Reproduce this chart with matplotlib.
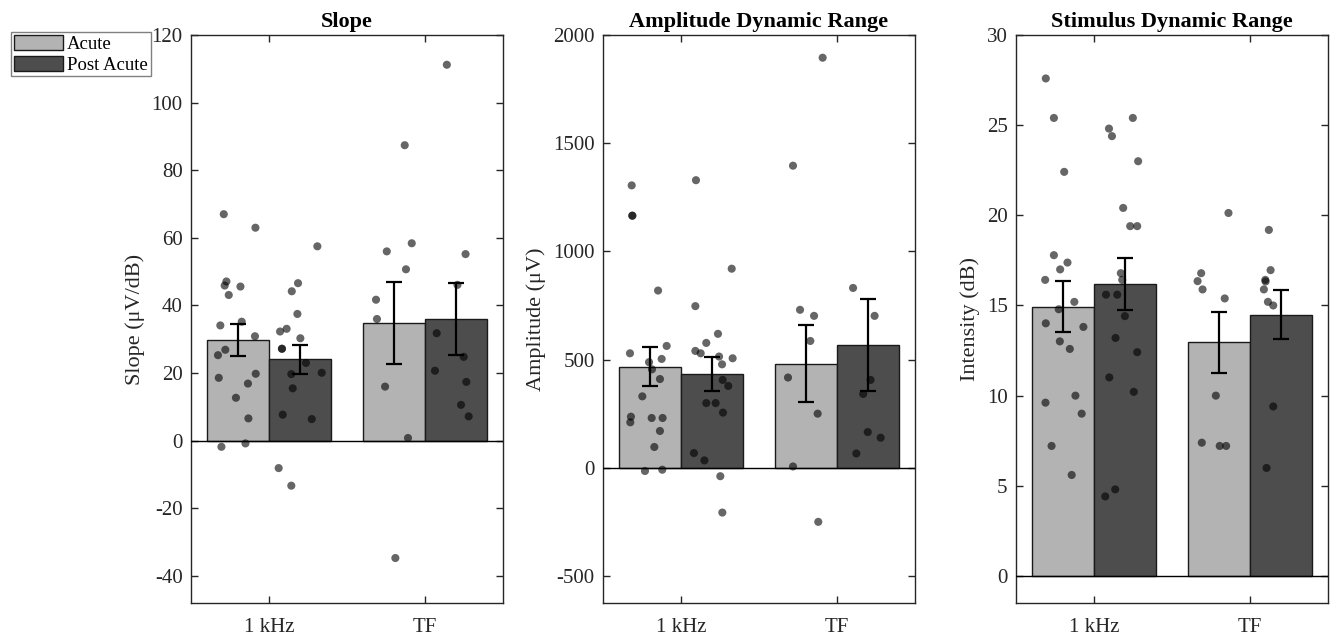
import matplotlib
matplotlib.use("Agg")
import matplotlib.pyplot as plt
from matplotlib.patches import Patch
import numpy as np

plt.rcParams['font.family'] = ['Liberation Serif', 'DejaVu Serif']
plt.rcParams['axes.unicode_minus'] = False

groups = ['1 kHz', 'TF']
conditions = ['Acute', 'Post Acute']
titles = ['Slope', 'Amplitude Dynamic Range', 'Stimulus Dynamic Range']
ylabels = ['Slope (μV/dB)', 'Amplitude (μV)', 'Intensity (dB)']
ylims = [(-48, 120), (-625, 2000), (-1.5, 30)]
yticks = [np.arange(-40, 121, 20), np.arange(-500, 2001, 500), np.arange(0, 31, 5)]

# bar means [group][condition]
slope_means = [[29.8, 24.1], [34.8, 36.0]]
slope_err = [[4.6, 4.3], [12.1, 10.6]]
amp_means = [[466, 433], [480, 568]]
amp_err = [[90, 80], [178, 212]]
stim_means = [[14.93, 16.19], [12.95, 14.49]]
stim_err = [[1.42, 1.46], [1.67, 1.37]]

# individual subject points: x (jittered position) and y values
slope_1k_acute_x = [0.71, 0.913, 0.727, 0.716, 0.817, 0.742, 0.825, 0.688, 0.91, 0.72, 0.673, 0.915, 0.678, 0.865, 0.788, 0.868, 0.695, 0.849]
slope_1k_acute_y = [67.0, 63.0, 47.1, 45.9, 45.6, 43.1, 35.2, 34.1, 30.9, 26.9, 25.3, 19.8, 18.6, 16.9, 12.7, 6.6, -1.8, -0.8]
slope_1k_post_x = [1.31, 1.186, 1.146, 1.182, 1.071, 1.113, 1.201, 1.083, 1.083, 1.237, 1.143, 1.338, 1.152, 1.088, 1.274, 1.062, 1.143]
slope_1k_post_y = [57.5, 46.6, 44.2, 37.5, 32.3, 33.1, 30.3, 27.2, 27.2, 23.0, 19.7, 20.1, 15.5, 7.7, 6.4, -8.1, -13.3]
slope_tf_acute_x = [1.686, 1.692, 1.744, 1.891, 1.81, 1.755, 1.878, 1.87, 1.915]
slope_tf_acute_y = [41.7, 36.0, 16.0, 0.8, -34.7, 56.0, 50.7, 87.4, 58.4]
slope_tf_post_x = [2.14, 2.26, 2.208, 2.075, 2.248, 2.064, 2.265, 2.231, 2.28]
slope_tf_post_y = [111.2, 55.2, 46.1, 31.8, 24.8, 20.7, 17.4, 10.6, 7.2]

amp_1k_acute_x = [0.684, 0.688, 0.688, 0.853, 0.673, 0.908, 0.795, 0.876, 0.814, 0.865, 0.752, 0.679, 0.675, 0.812, 0.882, 0.865, 0.829, 0.769, 0.88]
amp_1k_acute_y = [1305, 1165, 1165, 819, 529, 563, 488, 503, 455, 410, 330, 236, 210, 230, 230, 170, 96, -15, -9]
amp_1k_post_x = [1.096, 1.325, 1.092, 1.237, 1.162, 1.092, 1.126, 1.244, 1.331, 1.263, 1.267, 1.303, 1.162, 1.222, 1.269, 1.083, 1.15, 1.252, 1.265]
amp_1k_post_y = [1329, 920, 747, 619, 577, 540, 529, 514, 506, 478, 406, 378, 299, 299, 255, 68, 34, -39, -207]
amp_tf_acute_x = [1.718, 1.763, 1.853, 1.829, 1.686, 1.876, 1.718, 1.88]
amp_tf_acute_y = [1396, 730, 702, 586, 417, 250, 6, -250]
amp_tf_post_x = [1.908, 2.103, 2.241, 2.215, 2.168, 2.197, 2.28, 2.124]
amp_tf_post_y = [1895, 831, 702, 406, 341, 165, 139, 66]

stim_1k_acute_x = [0.691, 0.743, 0.809, 0.743, 0.83, 0.783, 0.687, 0.874, 0.774, 0.691, 0.932, 0.781, 0.845, 0.881, 0.689, 0.921, 0.728, 0.857]
stim_1k_acute_y = [27.59, 25.4, 22.41, 17.79, 17.38, 17.0, 16.42, 15.2, 14.79, 14.01, 13.81, 13.01, 12.59, 10.0, 9.61, 9.0, 7.21, 5.6]
stim_1k_post_x = [1.096, 1.115, 1.249, 1.283, 1.187, 1.232, 1.277, 1.172, 1.181, 1.077, 1.149, 1.198, 1.138, 1.277, 1.098, 1.255, 1.136, 1.072]
stim_1k_post_y = [24.81, 24.39, 25.4, 23.0, 20.41, 19.4, 19.4, 16.79, 16.42, 15.6, 15.6, 14.41, 13.2, 12.41, 11.01, 10.21, 4.8, 4.41]
stim_tf_acute_x = [1.862, 1.687, 1.664, 1.696, 1.838, 1.781, 1.691, 1.806, 1.847]
stim_tf_acute_y = [20.13, 16.79, 16.35, 15.89, 15.39, 10.0, 7.39, 7.21, 7.21]
stim_tf_post_x = [2.121, 2.132, 2.098, 2.1, 2.089, 2.115, 2.149, 2.149, 2.106]
stim_tf_post_y = [19.19, 16.96, 16.42, 16.33, 15.89, 15.2, 15.0, 9.4, 5.99]

panels = [
    (slope_means, slope_err,
     [(slope_1k_acute_x, slope_1k_acute_y), (slope_1k_post_x, slope_1k_post_y),
      (slope_tf_acute_x, slope_tf_acute_y), (slope_tf_post_x, slope_tf_post_y)]),
    (amp_means, amp_err,
     [(amp_1k_acute_x, amp_1k_acute_y), (amp_1k_post_x, amp_1k_post_y),
      (amp_tf_acute_x, amp_tf_acute_y), (amp_tf_post_x, amp_tf_post_y)]),
    (stim_means, stim_err,
     [(stim_1k_acute_x, stim_1k_acute_y), (stim_1k_post_x, stim_1k_post_y),
      (stim_tf_acute_x, stim_tf_acute_y), (stim_tf_post_x, stim_tf_post_y)]),
]

bar_colors = ['#b3b3b3', '#4d4d4d']
axis_color = '#262626'
W, H = 1336, 637
fig = plt.figure(figsize=(W / 100, H / 100), dpi=100)
lefts = [191, 603, 1016]
ax_w, ax_top, ax_bot = 312, 35, 603
fs = 15
fs_lab = 16

for i, (means, errs, pts) in enumerate(panels):
    ax = fig.add_axes([lefts[i] / W, 1 - ax_bot / H, ax_w / W, (ax_bot - ax_top) / H])
    centers = np.arange(1, len(groups) + 1)
    for c in range(2):
        xs = centers + (c - 0.5) * 0.4
        ys = [means[g][c] for g in range(len(groups))]
        ax.bar(xs, ys, width=0.4, color=bar_colors[c], edgecolor='#1a1a1a', linewidth=1.0, zorder=2)
    ax.axhline(0, color='black', linewidth=1.0, zorder=3)
    for (px, py) in pts:
        ax.scatter(px, py, s=34, color='black', alpha=0.6, edgecolors='none', zorder=4)
    for c in range(2):
        xs = centers + (c - 0.5) * 0.4
        ys = [means[g][c] for g in range(len(groups))]
        es = [errs[g][c] for g in range(len(groups))]
        ax.errorbar(xs, ys, yerr=es, fmt='none', ecolor='black', elinewidth=1.6,
                    capsize=5.6, capthick=1.6, zorder=5)
    ax.set_xlim(0.5, 2.5)
    ax.set_ylim(*ylims[i])
    ax.set_yticks(yticks[i])
    ax.set_xticks(centers)
    ax.set_xticklabels(groups)
    ax.tick_params(direction='in', top=True, right=True, length=5, width=1.0,
                   colors=axis_color, labelsize=fs)
    ax.tick_params(axis='y', pad=6)
    ax.tick_params(axis='x', pad=11)
    for sp in ax.spines.values():
        sp.set_color(axis_color)
        sp.set_linewidth(1.0)
    ax.set_title(titles[i], fontsize=fs_lab, fontweight='bold', pad=6, color='black')
    ax.set_ylabel(ylabels[i], fontsize=fs_lab, color=axis_color, labelpad=5)

handles = [Patch(facecolor=bar_colors[c], edgecolor='#1a1a1a', linewidth=1.0) for c in range(2)]
fig.legend(handles, conditions, loc='upper left', bbox_to_anchor=(11 / W, 1 - 32 / H),
           fontsize=13.5, frameon=True, fancybox=False, edgecolor='#808080', framealpha=1,
           handlelength=2.6, handleheight=0.85, handletextpad=0.25, labelspacing=0.15,
           borderpad=0.15, borderaxespad=0)

fig.savefig('out.png', dpi=100)
